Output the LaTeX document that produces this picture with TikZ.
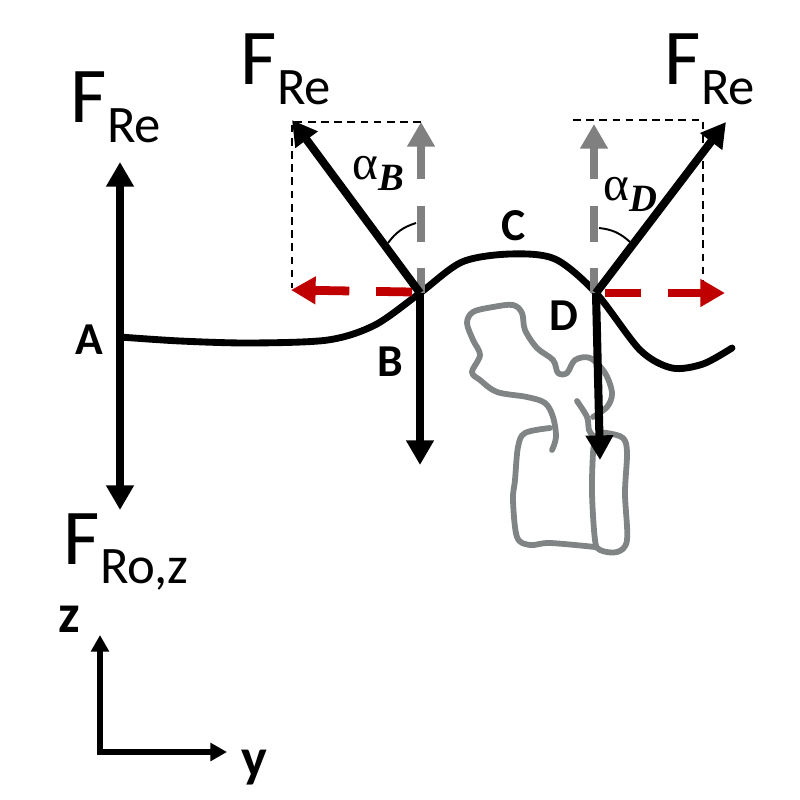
\documentclass[tikz,border=0pt]{standalone}
\usepackage{fontspec}
\setmainfont{Carlito}
\newfontfamily\greekfont{Liberation Serif}
\usetikzlibrary{arrows.meta}
\definecolor{redarrow}{RGB}{192,0,0}
\definecolor{greyarrow}{RGB}{128,128,128}
\definecolor{bone}{RGB}{128,132,132}
\newcommand{\forcelabel}[1]{{\fontsize{45}{45}\selectfont F}\kern0.2pt{\fontsize{30}{30}\selectfont\raisebox{-11.3pt}{#1}}}
\newcommand{\anglelabel}[1]{{\greekfont\fontsize{28}{28}\selectfont α\fontsize{22}{22}\selectfont\raisebox{-6pt}{\bfseries\itshape #1}}}
\tikzset{
  pxscale/.style={x=0.02cm,y=-0.02cm},
  force/.style={line width=4.6pt,black,-{Triangle[length=14pt,width=15pt]}},
  dbl/.style={line width=4.4pt,black,{Triangle[length=14pt,width=15pt]}-{Triangle[length=14pt,width=15pt]}},
  beam/.style={line width=3.9pt,black},
  compx/.style={line width=5pt,redarrow,-{Triangle[length=14pt,width=15pt]},dash pattern=on 20.4pt off 15.3pt on 100pt},
  compy/.style={line width=5pt,greyarrow,-{Triangle[length=14pt,width=15pt]},dash pattern=on 14.2pt off 14.7pt on 20.4pt off 15.3pt on 100pt},
  helper/.style={line width=1.4pt,black,dash pattern=on 4.4pt off 3.1pt},
  anglearc/.style={line width=1.1pt,black},
  axis/.style={line width=3.4pt,black,{Triangle[length=9.5pt,width=10pt]}-{Triangle[length=9.5pt,width=10pt]},line join=miter},
  bone line/.style={line width=3.3pt,bone,line join=round,line cap=round},
  pt label/.style={font=\fontsize{26}{26}\selectfont\bfseries,inner sep=0pt},
  axis label/.style={font=\fontsize{31}{31}\selectfont\bfseries,inner sep=0pt},
  txt/.style={inner sep=0pt,anchor=base west},
}
\begin{document}
\begin{tikzpicture}[pxscale]
\useasboundingbox (0,0) rectangle (800,800);
% bone
\draw[bone line] plot[smooth,tension=0.55] coordinates {(552,450) (556,437) (553,417) (545,403) (527,397) (497,392) (480,380) (472,372) (480,355) (473,340) (467,323) (473,312) (493,307) (513,305) (522,313) (525,330) (537,348) (553,360) (558,373) (567,373) (575,360) (590,358) (605,373) (612,393) (607,407) (593,417)};
\draw[bone line] plot[smooth,tension=0.55] coordinates {(577,401) (587,417) (589,430) (594,437)};
\draw[bone line] plot[smooth,tension=0.55] coordinates {(550,428) (525,433) (518,447) (515,480) (513,500) (517,537) (530,545) (550,543) (595,547)};
\draw[bone line] plot[smooth,tension=0.55] coordinates {(600,433) (607,433) (623,438) (627,453) (625,493) (627,540) (617,552) (600,550) (595,540) (592,493) (593,453) (595,440)};
% beam
\coordinate (a) at (120,337);
\coordinate (b) at (420,293);
\coordinate (d) at (596,293);
\draw[beam,line cap=round] plot[smooth,tension=0.5] coordinates {(a) (180,341) (250,343) (328,340) (375,325) (b) (462,262) (510,254) (555,259) (d) (640,350) (672,368) (703,364) (732,348)};
% helpers
\coordinate (bt) at (292,122); \coordinate (bg) at (421,122); \coordinate (bl) at (292,288);
\coordinate (dt) at (703,120); \coordinate (dg) at (573,120); \coordinate (dr) at (703,285);
\draw[helper] (bg) -- (bt) -- (bl);
\draw[helper] (dg) -- (dt) -- (dr);
% grey components
\coordinate (bgtip) at (421,122); \coordinate (dgtip) at (594,124);
\draw[compy] (421,293) -- (bgtip);
\draw[compy] (594,293) -- (dgtip);
% red components
\coordinate (brtip) at (291,290); \coordinate (drtip) at (725,293);
\draw[compx] (412,292) -- (brtip);
\draw[compx] (605,293) -- (drtip);
% forces
\coordinate (btip) at (292,120); \coordinate (dtip) at (726,122);
\coordinate (bdown) at (420,465); \coordinate (ddown) at (600,460);
\coordinate (aup) at (120,162); \coordinate (adown) at (120,510);
\draw[force] (b) -- (btip);
\draw[force] (d) -- (dtip);
\draw[force] (b) -- (bdown);
\draw[force] (d) -- (ddown);
\draw[dbl] (aup) -- (adown);
% angle arcs
\coordinate (ba1) at (388,243); \coordinate (ba2) at (416,223);
\coordinate (da1) at (599,228); \coordinate (da2) at (630,242);
\draw[anglearc] (ba1) to[bend left=18] (ba2);
\draw[anglearc] (da1) to[bend left=18] (da2);
% axes
\coordinate (o) at (100,752); \coordinate (zt) at (100,635); \coordinate (yt) at (227,752);
\draw[axis] (zt) -- (o) -- (yt);
% labels
\node[txt] (fa) at (70,123) {\forcelabel{Re}};
\node[txt] (fb) at (240,85) {\forcelabel{Re}};
\node[txt] (fd) at (664,85) {\forcelabel{Re}};
\node[txt] (fr) at (63,564) {\forcelabel{Ro,z}};
\node[txt] (ab) at (352,180) {\anglelabel{B}};
\node[txt] (ad) at (603,201) {\anglelabel{D}};
\node[pt label] (la) at (89,340) {A};
\node[pt label] (lb) at (390,362) {B};
\node[pt label] (lc) at (514,226) {C};
\node[pt label] (ld) at (564,316) {D};
\node[axis label] (lz) at (69,619) {z};
\node[axis label] (ly) at (254,768) {y};
\end{tikzpicture}
\end{document}
